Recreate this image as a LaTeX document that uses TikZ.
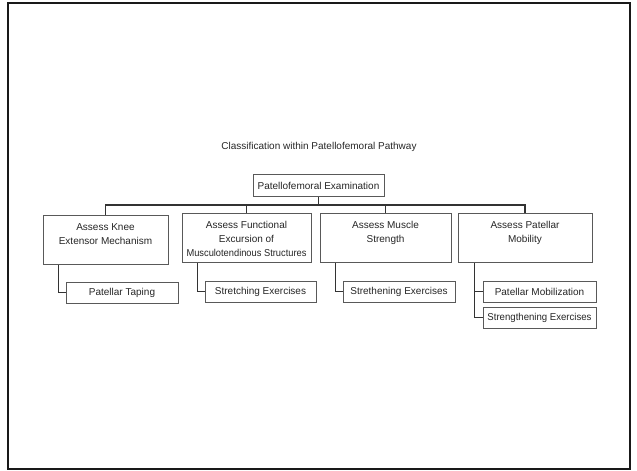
\documentclass[tikz,border=0pt]{standalone}
\usepackage{fontspec}
\setmainfont{Liberation Sans}
\newcommand{\firstline}{\rule{0pt}{14.5pt}}
\begin{document}
\begin{tikzpicture}[x=1pt,y=-1pt,
  every node/.style={font=\fontsize{10}{14}\selectfont, text=black!85},
  box/.style={draw=black!65, line width=1pt, fill=white, inner sep=0pt},
  topbox/.style={box, anchor=north, minimum height=22pt},
  headbox/.style={box, anchor=north},
  leafbox/.style={box, minimum height=21pt},
  link/.style={draw=black!80, line width=1.3pt}]
  % page and frame
  \useasboundingbox (0,0) rectangle (637,471);
  \draw[line width=2.6pt, black!90] (8,3) rectangle (630,469);

  % title
  \node (title) at (319,147) {Classification within Patellofemoral Pathway};

  % root
  \node[topbox, minimum width=131pt] (root) at (318.5,174) {Patellofemoral Examination};

  % first level: assessments
  \node[headbox, minimum width=125pt] (b1) at (105.5,215)
    {\parbox[t][49pt][t]{125pt}{\centering\firstline Assess Knee\\Extensor Mechanism}};
  \node[headbox, minimum width=129pt] (b2) at (246.5,213)
    {\parbox[t][49pt][t]{129pt}{\centering\firstline Assess Functional\\Excursion of\\\scalebox{0.93}[1]{Musculotendinous Structures}}};
  \node[headbox, minimum width=131pt] (b3) at (385.5,213)
    {\parbox[t][49pt][t]{131pt}{\centering\firstline Assess Muscle\\Strength}};
  \node[headbox, minimum width=134pt] (b4) at (525,213)
    {\parbox[t][49pt][t]{134pt}{\centering\firstline Assess Patellar\\Mobility}};

  % second level: treatments
  \node[leafbox, minimum width=112pt] (t1) at (122,292.5) {Patellar Taping};
  \node[leafbox, minimum width=111pt] (t2) at (260.5,291.5) {Stretching Exercises};
  \node[leafbox, minimum width=112pt] (t3) at (399,291.5) {Strethening Exercises};
  \node[leafbox, minimum width=113pt] (t4) at (539.5,291.5) {Patellar Mobilization};
  \node[leafbox, minimum width=113pt] (t5) at (539.5,317.5) {\scalebox{0.96}[1]{Strengthening Exercises}};

  % bus from the root to the assessments
  \coordinate (bus) at (318.5,205);
  \draw[link] (root.south) -- (bus);
  \draw[link] (b1.north) |- (bus) -| (b4.north);
  \draw[link] (b2.north) -- (b2.north |- bus);
  \draw[link] (b3.north) -- (b3.north |- bus);

  % drops from the assessments to the treatments
  \coordinate (d1) at ([xshift=16pt]b1.south west);
  \coordinate (d2) at ([xshift=16pt]b2.south west);
  \coordinate (d3) at ([xshift=16pt]b3.south west);
  \coordinate (d4) at ([xshift=17pt]b4.south west);
  \draw[link] (d1) |- (t1.west);
  \draw[link] (d2) |- (t2.west);
  \draw[link] (d3) |- (t3.west);
  \draw[link] (d4) |- (t5.west);
  \draw[link] (t4.west) -- (t4.west -| d4);
\end{tikzpicture}
\end{document}
